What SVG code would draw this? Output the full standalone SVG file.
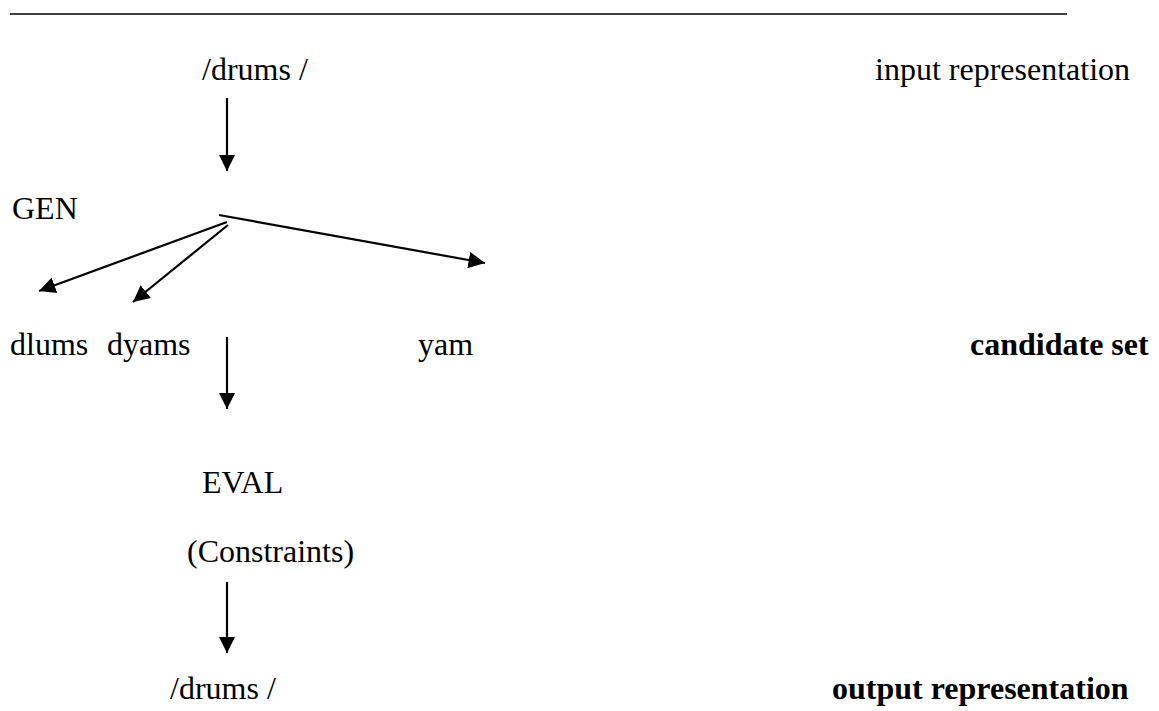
<svg xmlns="http://www.w3.org/2000/svg" width="1159" height="711" viewBox="0 0 1159 711">
  <style>
    text { font-family: "Liberation Serif", "Times New Roman", serif; font-size: 32px; fill: #000; }
    .b { font-weight: bold; }
    .conn { stroke: #000; stroke-width: 2.2; fill: none; }
  </style>
  <defs>
    <marker id="arrow" viewBox="0 0 10 10" refX="10" refY="5" markerWidth="7.5" markerHeight="7.5" markerUnits="strokeWidth" orient="auto">
      <path d="M0,0 L10,5 L0,10 Z" fill="#000"/>
    </marker>
  </defs>
  <rect width="1159" height="711" fill="#fff"/>

  <!-- rule across the top -->
  <line x1="10" y1="14" x2="1067" y2="14" stroke="#000" stroke-width="1.6"/>

  <g id="input"><text x="202" y="80">/drums /</text></g>
  <g id="input-label"><text x="875" y="80">input representation</text></g>
  <g id="gen"><text x="12" y="219">GEN</text></g>
  <g id="cand-dlums"><text x="10" y="355">dlums</text></g>
  <g id="cand-dyams"><text x="107" y="355">dyams</text></g>
  <g id="cand-yam"><text x="418" y="355">yam</text></g>
  <g id="cand-label"><text class="b" x="970" y="355">candidate set</text></g>
  <g id="eval"><text x="202" y="493">EVAL</text></g>
  <g id="constraints"><text x="187" y="562">(Constraints)</text></g>
  <g id="output"><text x="170" y="699">/drums /</text></g>
  <g id="output-label"><text class="b" x="832" y="699">output representation</text></g>

  <g id="connectors">
    <line class="conn" x1="227" y1="98" x2="227" y2="171" marker-end="url(#arrow)"/>
    <line class="conn" x1="219" y1="215" x2="485" y2="263" marker-end="url(#arrow)"/>
    <line class="conn" x1="227" y1="222" x2="39" y2="291" marker-end="url(#arrow)"/>
    <line class="conn" x1="228" y1="225" x2="133" y2="302" marker-end="url(#arrow)"/>
    <line class="conn" x1="227" y1="337" x2="227" y2="409" marker-end="url(#arrow)"/>
    <line class="conn" x1="227" y1="582" x2="227" y2="653" marker-end="url(#arrow)"/>
  </g>
</svg>
